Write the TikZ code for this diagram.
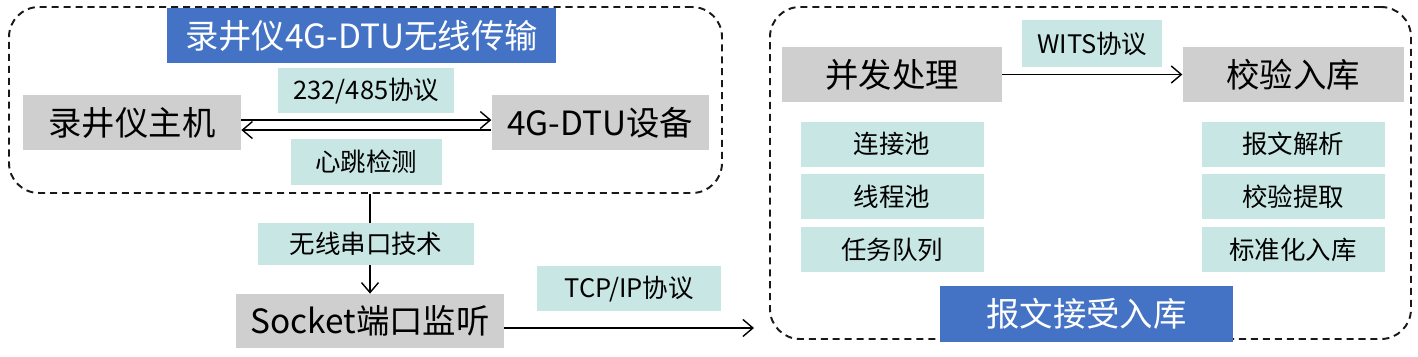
\documentclass[tikz,border=0pt]{standalone}
\usepackage{fontspec}
\setmainfont{Noto Sans CJK SC}
\usetikzlibrary{positioning, arrows.meta}
\usepackage{xcolor}
\definecolor{headblue}{HTML}{4472C4}
\definecolor{tagteal}{HTML}{C8E7E4}
\definecolor{boxgray}{HTML}{D0CFCF}

\begin{document}
\begin{tikzpicture}[
        node distance=0.14cm,
        big/.style={rectangle, inner sep=0pt, minimum height=1.1cm, align=center, font=\fontsize{19}{22}\selectfont},
        box/.style={big, fill=boxgray, text=black},
        head/.style={big, fill=headblue, text=white},
        tag/.style={rectangle, fill=tagteal, inner sep=0pt, minimum height=0.9cm, align=center, font=\fontsize{14.5}{17}\selectfont},
        group/.style={rectangle, draw=black!90, line width=1.1pt, dash pattern=on 4pt off 2.8pt, rounded corners=0.6cm},
        arrow/.style={-{Straight Barb[length=2mm, width=3.4mm]}, line width=0.8pt}
    ]
        \useasboundingbox (0,0) rectangle (28.36,7.14);

        % Groups
        \node[group, minimum width=14.26cm, minimum height=3.72cm] (wireless) at (7.31,5.14) {};
        \node[group, minimum width=12.82cm, minimum height=6.64cm] (store) at (21.81,3.68) {};

        % Wireless side
        \node[head, minimum width=7.78cm] (w_title) at (7.23,6.43) {录井仪4G-DTU无线传输};
        \node[box, minimum width=4.36cm] (host) at (2.64,4.69) {录井仪主机};
        \node[box, minimum width=4.34cm, right=5cm of host] (dtu) {4G-DTU设备};
        \node[box, minimum width=5.36cm, minimum height=1.08cm] (sock) at (7.4,0.72) {Socket端口监听};

        % Storage side
        \node[box, minimum width=4.4cm] (conc) at (17.84,5.65) {并发处理};
        \node[box, minimum width=4.42cm, right=3.6cm of conc] (check) {校验入库};
        \node[tag, minimum width=3.66cm, below=0.38cm of conc] (c_conn) {连接池};
        \node[tag, minimum width=3.66cm, below=of c_conn] (c_thread) {线程池};
        \node[tag, minimum width=3.66cm, below=of c_thread] (c_queue) {任务队列};
        \node[tag, minimum width=3.66cm, below=0.38cm of check] (k_parse) {报文解析};
        \node[tag, minimum width=3.66cm, below=of k_parse] (k_pick) {校验提取};
        \node[tag, minimum width=3.66cm, below=of k_pick] (k_norm) {标准化入库};
        \node[head, minimum width=5.86cm, minimum height=1.12cm] (s_title) at (21.73,0.86) {报文接受入库};
        \coordinate (gate) at (15.08,0.58);

        % Connections
        \draw[arrow] ([yshift=1.4pt]host.east) -- node[tag, minimum width=3.52cm, above=0.12cm] (l_proto) {232/485协议} ([yshift=1.4pt]dtu.west);
        \draw[arrow] ([yshift=-4.3pt]dtu.west) -- node[tag, minimum width=3.02cm, minimum height=0.92cm, below=0.16cm] (l_beat) {心跳检测} ([yshift=-4.3pt]host.east);
        \draw[arrow] (sock.north |- wireless.south) -- node[tag, minimum width=4.32cm, minimum height=0.84cm, xshift=-0.08cm] (l_serial) {无线串口技术} (sock.north);
        \draw[arrow] ([yshift=-0.14cm]sock.east) -- node[tag, minimum width=3.68cm, above=0.32cm] (l_tcp) {TCP/IP协议} (gate);
        \draw[arrow] (conc) -- node[tag, minimum width=2.8cm, minimum height=0.94cm, above=0.13cm] (l_wits) {WITS协议} (check);
    \end{tikzpicture}
\end{document}
